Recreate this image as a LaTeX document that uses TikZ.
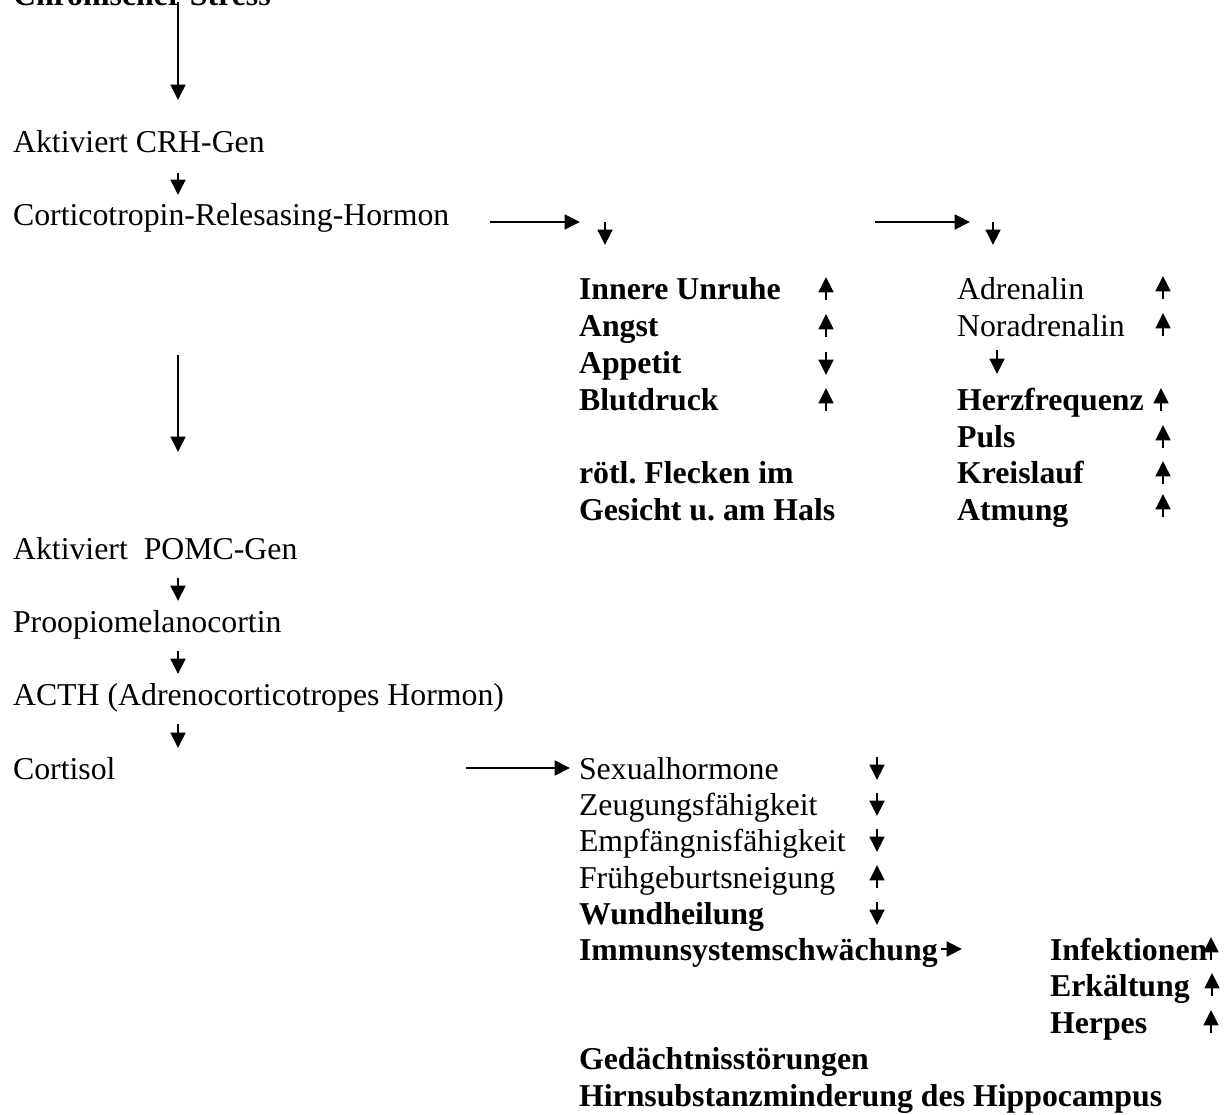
\documentclass[tikz,border=0pt]{standalone}
\usepackage{fontspec}
\setmainfont{Liberation Serif}
\usetikzlibrary{calc,arrows.meta}
\frenchspacing

\begin{document}
\begin{tikzpicture}[x=0.3774pt, y=-0.3774pt, line width=0.8pt,
    arr/.style={-{Triangle[length=5.8pt,width=5.6pt]}},
    txt/.style={anchor=base west, inner sep=0pt, font=\fontsize{12}{14}\selectfont},
    btxt/.style={txt, font=\fontsize{12}{14}\selectfont\bfseries},
    trendup/.pic={\draw[arr] (0,11) -- (0,-12);},
    trenddown/.pic={\draw[arr] (0,-11) -- (0,12);}]
    \useasboundingbox (0,0) rectangle (1230,1115);

    % Left chain
    \node[btxt] (stress) at (12,6) {Chronischer Stress};
    \node[txt] (crhgen) at (12,153) {Aktiviert CRH-Gen};
    \node[txt] (crh) at (12,226) {Corticotropin-Relesasing-Hormon};
    \node[txt] (pomcgen) at (12,559) {Aktiviert\ \ POMC-Gen};
    \node[txt] (pomc) at (12,632) {Proopiomelanocortin};
    \node[txt] (acth) at (12,705) {ACTH (Adrenocorticotropes Hormon)};
    \node[txt] (cortisol) at (12,779) {Cortisol};

    \coordinate (axis) at (178,0);
    \draw[arr] ($(stress.base -| axis)+(0,-4)$) -- ($(crhgen.base -| axis)+(0,-53)$);
    \draw[arr] ($(crhgen.base -| axis)+(0,20)$) -- ($(crh.base -| axis)+(0,-31)$);
    \draw[arr] ($(crh.base -| axis)+(0,129)$) -- ($(pomcgen.base -| axis)+(0,-107)$);
    \draw[arr] ($(pomcgen.base -| axis)+(0,19)$) -- ($(pomc.base -| axis)+(0,-31)$);
    \draw[arr] ($(pomc.base -| axis)+(0,19)$) -- ($(acth.base -| axis)+(0,-31)$);
    \draw[arr] ($(acth.base -| axis)+(0,19)$) -- ($(cortisol.base -| axis)+(0,-31)$);

    % Forks from the hormone
    \coordinate (fork1) at (605,222);
    \coordinate (fork2) at (993,222);
    \draw[arr] ($(crh.base west)+(478,-4)$) -- ($(fork1)+(-25,0)$);
    \draw[arr] (fork1) -- ++(0,23);
    \draw[arr] ($(fork1)+(270,0)$) -- ($(fork2)+(-23,0)$);
    \draw[arr] (fork2) -- ++(0,23);

    % Middle column
    \node[btxt] (unruhe) at (578,300) {Innere Unruhe};
    \node[btxt] (angst) at (578,337) {Angst};
    \node[btxt] (appetit) at (578,374) {Appetit};
    \node[btxt] (blut) at (578,411) {Blutdruck};
    \node[btxt] (flecken) at (578,484) {rötl. Flecken im};
    \node[btxt] (gesicht) at (578,521) {Gesicht u. am Hals};
    \pic at (826,289) {trendup};
    \pic at (826,326) {trendup};
    \pic at (826,363) {trenddown};
    \pic at (826,400) {trendup};

    % Right column
    \node[txt] (adrenalin) at (956,300) {Adrenalin};
    \node[txt] (noradr) at (956,337) {Noradrenalin};
    \node[btxt] (herz) at (956,411) {Herzfrequenz};
    \node[btxt] (puls) at (956,448) {Puls};
    \node[btxt] (kreis) at (956,484) {Kreislauf};
    \node[btxt] (atmung) at (956,521) {Atmung};
    \draw[arr] ($(noradr.base west)+(41,13)$) -- ($(herz.base west)+(41,-37)$);
    \pic at (1163,288) {trendup};
    \pic at (1163,325) {trendup};
    \pic at (1161,400) {trendup};
    \pic at (1163,437) {trendup};
    \pic at (1163,473) {trendup};
    \pic at (1163,506) {trendup};

    % Cortisol effects
    \node[txt] (sexual) at (578,779) {Sexualhormone};
    \node[txt] (zeugung) at (578,815) {Zeugungsfähigkeit};
    \node[txt] (empf) at (578,851) {Empfängnisfähigkeit};
    \node[txt] (frueh) at (578,888) {Frühgeburtsneigung};
    \node[btxt] (wund) at (578,924) {Wundheilung};
    \node[btxt] (immun) at (578,960) {Immunsystemschwächung};
    \node[btxt] (gedaecht) at (578,1069) {Gedächtnisstörungen};
    \node[btxt] (hirn) at (578,1106) {Hirnsubstanzminderung des Hippocampus};
    \draw[arr] ($(cortisol.base west)+(454,-11)$) -- ($(sexual.base west)+(-8,-11)$);
    \pic at (877,768) {trenddown};
    \pic at (877,804) {trenddown};
    \pic at (877,840) {trenddown};
    \pic at (877,877) {trendup};
    \pic at (877,913) {trenddown};

    % Immune system
    \node[btxt] (infekt) at (1049,960) {Infektionen};
    \node[btxt] (erkalt) at (1049,996) {Erkältung};
    \node[btxt] (herpes) at (1049,1033) {Herpes};
    \draw[arr] ($(immun.base east)+(2,-11)$) -- ($(infekt.base west)+(-87,-11)$);
    \pic at (1211,949) {trendup};
    \pic at (1212,985) {trendup};
    \pic at (1211,1022) {trendup};
\end{tikzpicture}
\end{document}
